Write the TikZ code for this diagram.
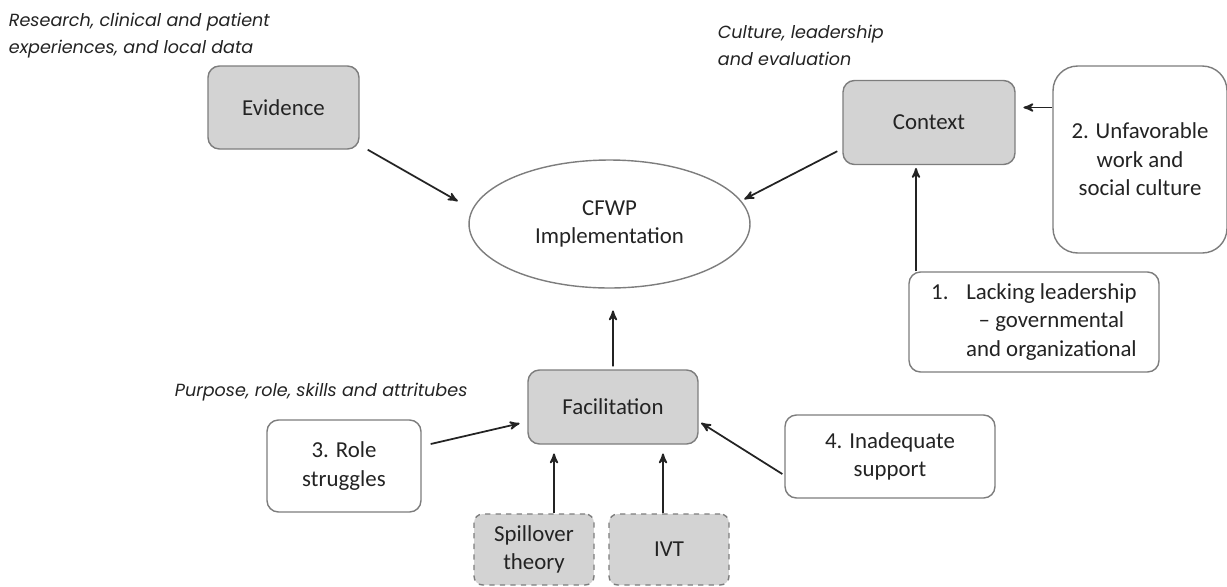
\documentclass[tikz,border=0pt]{standalone}
\usepackage{fontspec}
\setmainfont{Carlito}
\newfontfamily\notefont{Poppins}
\usepackage{xcolor}
\usetikzlibrary{arrows,calc,shapes.geometric}
\definecolor{boxgray}{RGB}{211,211,211}
\definecolor{linegray}{RGB}{125,125,125}
\definecolor{inkgray}{RGB}{35,35,35}

\begin{document}
\begin{tikzpicture}[x=0.02cm, y=-0.02cm, ->, >=stealth', shorten >=1pt, line width=1pt, inkgray,
                main node/.style={rectangle, rounded corners=6.5pt, draw=linegray, line width=0.8pt, fill=boxgray,
                                  align=center, font=\fontsize{13}{16.2}\selectfont},
                issue node/.style={main node, fill=white},
                theory node/.style={main node, dashed, rounded corners=5pt},
                note/.style={align=left, inner sep=0pt, anchor=base west, font=\notefont\itshape\fontsize{10}{15.2}\selectfont}]

      \useasboundingbox (0,0) rectangle (1227,586);

      % framework
      \node[main node, minimum width=3.02cm, minimum height=1.66cm] (evid) at (283.5,107.5) {Evidence};
      \node[main node, minimum width=3.44cm, minimum height=1.68cm] (ctx) at (929,122.5) {Context};
      \node[main node, minimum width=3.4cm, minimum height=1.48cm] (fac) at (613,407) {Facilitation};
      \node[ellipse, draw=linegray, line width=0.8pt, align=center, font=\fontsize{13}{16.2}\selectfont,
            minimum width=5.62cm, minimum height=2.56cm] (cfwp) at (609.5,224) {CFWP\\Implementation};

      % barriers
      \node[issue node, rounded corners=14pt, minimum width=3.48cm, minimum height=3.74cm] (unfav) at (1140,159.5)
            {2. Unfavorable\\work and\\social culture};
      \node[issue node, minimum width=5cm, minimum height=2cm] (lack) at (1034,322)
            {\begin{tabular}{@{}l@{\hspace{10pt}}c@{}}1. & Lacking leadership\\ & -- governmental\\ & and organizational\end{tabular}};
      \node[issue node, minimum width=3.08cm, minimum height=1.84cm] (role) at (344,466) {3. Role\\struggles};
      \node[issue node, minimum width=4.2cm, minimum height=1.66cm] (inad) at (890,456.5) {4. Inadequate\\support};

      % theories
      \node[theory node, minimum width=2.4cm, minimum height=1.42cm] (spill) at (534,549.5) {Spillover\\theory};
      \node[theory node, minimum width=2.4cm, minimum height=1.42cm] (ivt) at (669,549.5) {IVT};

      % notes (base = last line)
      \node[note] (resnote) at (8,53) {Research, clinical and patient\\experiences, and local data};
      \node[note] (culnote) at (717,65) {Culture, leadership\\and evaluation};
      \node[note] (purnote) at (174,396) {Purpose, role, skills and attritubes};

      \draw ($(evid.south east)+(8,0)$) -- ($(cfwp.west)+(-9,-22)$);
      \draw ($(ctx.south west)+(-5,-14)$) -- ($(cfwp.east)+(-8,-24)$);
      \draw ($(unfav.west)+(0,-52)$) -- ($(ctx.east)+(6,-15)$);
      \draw ($(lack.north)+(-118,0)$) -- ($(ctx.south)+(-13,1)$);
      \draw ($(fac.north)+(0,-3)$) -- ($(cfwp.south)+(3.5,20)$);
      \draw ($(role.east)+(9,-22)$) -- ($(fac.west)+(-6,16)$);
      \draw ($(inad.west)+(-2,17.5)$) -- ($(fac.east)+(1,15)$);
      \draw ($(spill.north)+(20,0)$) -- ($(fac.south)+(-59,7)$);
      \draw ($(ivt.north)+(-6,0)$) -- ($(fac.south)+(50,7)$);
  \end{tikzpicture}
\end{document}
